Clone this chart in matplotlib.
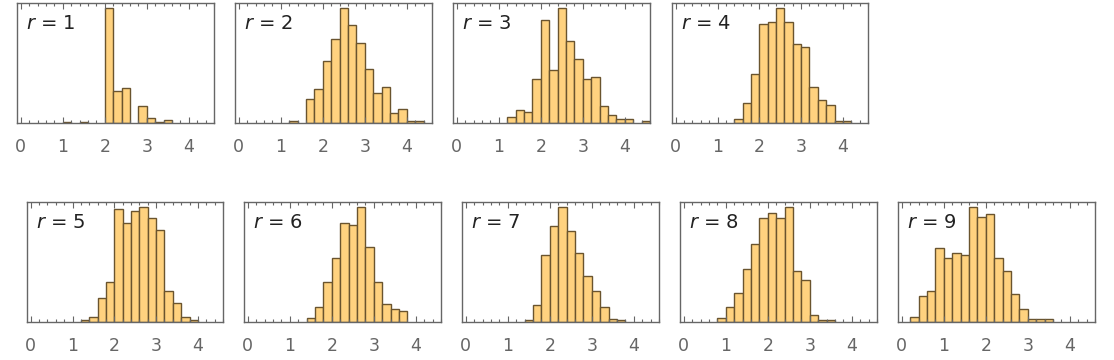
import numpy as np
import matplotlib.pyplot as plt
from matplotlib.ticker import MultipleLocator

# ── Data: histogram heights per panel, bins of width 0.2 ─────────────────────
BIN_W = 0.2

labels = ["1", "2", "3", "4", "5", "6", "7", "8", "9"]

# first bin edge of each panel
starts = [1.0, 1.2, 1.2, 1.4, 1.2, 1.4, 1.4, 0.8, 0.2]

counts_r1 = [3, 0, 3, 0, 0, 345, 96, 104, 0, 51, 15, 3, 9]
counts_r2 = [5, 0, 71, 101, 188, 254, 345, 296, 242, 164, 89, 107, 29, 41, 5, 5]
counts_r3 = [17, 38, 32, 131, 311, 161, 345, 248, 194, 131, 137, 50, 23, 11, 11, 0, 5]
counts_r4 = [11, 59, 149, 299, 305, 345, 305, 237, 230, 107, 69, 53, 5, 5]
counts_r5 = [5, 14, 71, 119, 338, 296, 332, 344, 311, 275, 92, 56, 14, 5]
counts_r6 = [11, 44, 119, 191, 296, 290, 344, 224, 119, 53, 38, 32]
counts_r7 = [5, 50, 200, 287, 344, 272, 206, 137, 92, 44, 8, 5]
counts_r8 = [11, 44, 86, 158, 233, 311, 326, 311, 344, 152, 125, 20, 5, 5]
counts_r9 = [14, 77, 92, 221, 191, 206, 200, 344, 314, 323, 191, 152, 83, 38, 8, 8, 8]

all_counts = [counts_r1, counts_r2, counts_r3, counts_r4, counts_r5,
              counts_r6, counts_r7, counts_r8, counts_r9]

# ── Layout (pixel boxes: left, right, top, bottom) ───────────────────────────
W, H = 1114, 360
boxes = [
    (17, 214, 3, 123), (235, 432, 3, 123), (453, 650, 3, 123), (672, 868, 3, 123),
    (27, 223, 202, 322), (244, 441, 202, 322), (462, 659, 202, 322),
    (680, 877, 202, 322), (898, 1095, 202, 322),
]

FILL = "#ffd27f"
EDGE = "#6a542e"
FRAME = "#666666"

fig = plt.figure(figsize=(W / 100, H / 100), dpi=100)
fig.patch.set_facecolor("white")

for lab, start, cnt, (l, r, t, b) in zip(labels, starts, all_counts, boxes):
    ax = fig.add_axes([l / W, 1 - b / H, (r - l) / W, (b - t) / H])
    cnt = np.array(cnt, dtype=float)
    edges = start + BIN_W * np.arange(len(cnt))
    keep = cnt > 0
    ax.bar(edges[keep], cnt[keep], width=BIN_W, align="edge",
           color=FILL, edgecolor=EDGE, linewidth=1.0)

    ax.set_xlim(-0.09, 4.6)
    ax.set_ylim(0, cnt.max() * 1.047)
    ax.set_yticks([])
    ax.xaxis.set_major_locator(MultipleLocator(1))
    ax.xaxis.set_minor_locator(MultipleLocator(0.2))
    ax.tick_params(axis="x", which="both", direction="in", top=True,
                   color=FRAME, width=0.8)
    ax.tick_params(axis="x", which="major", length=4, pad=11,
                   labelsize=12.5, labelcolor="#666666")
    ax.tick_params(axis="x", which="minor", length=2)
    for s in ax.spines.values():
        s.set_color(FRAME)
        s.set_linewidth(1.0)

    ax.text(0.045, 0.83, f"$r$ = {lab}", transform=ax.transAxes,
            ha="left", va="center", fontsize=14, color="#222222")

fig.savefig("out.png", dpi=100, facecolor="white")
